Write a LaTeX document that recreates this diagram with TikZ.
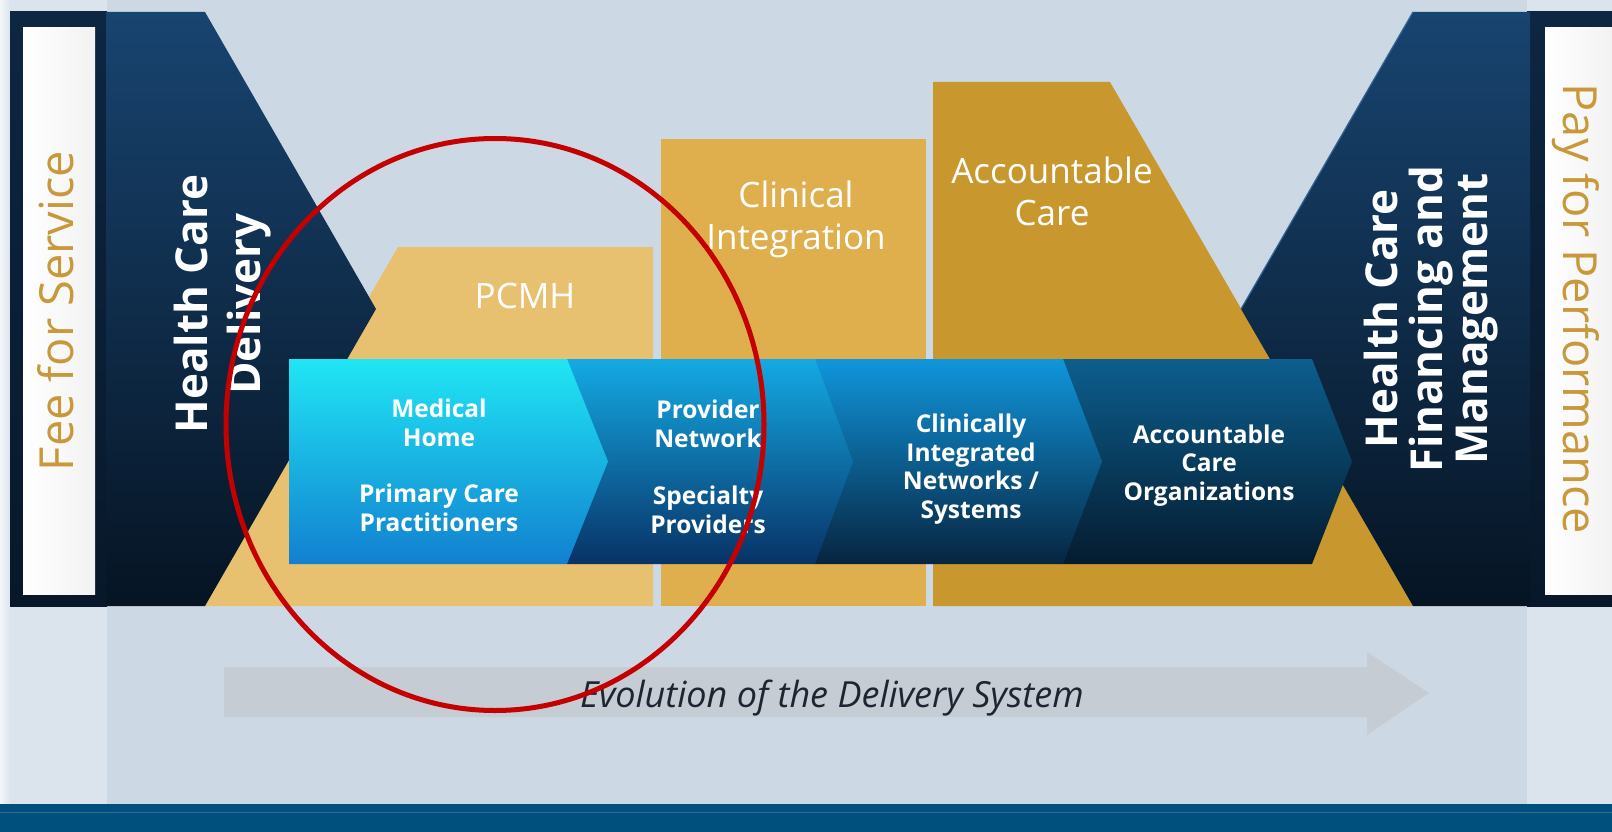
\documentclass[tikz,border=0pt]{standalone}
\usepackage{fontspec}
\setmainfont{Open Sans}
\usetikzlibrary{shadings}
\definecolor{bgmain}{RGB}{205,216,229}
\definecolor{bgside}{RGB}{219,227,237}
\definecolor{frametop}{RGB}{13,38,66}
\definecolor{framebot}{RGB}{8,24,42}
\definecolor{chevtop}{RGB}{24,68,112}
\definecolor{chevbot}{RGB}{6,20,35}
\definecolor{goldA}{RGB}{232,193,112}
\definecolor{goldB}{RGB}{222,175,76}
\definecolor{goldC}{RGB}{200,152,47}
\definecolor{sOneT}{RGB}{32,230,244}
\definecolor{sOneB}{RGB}{18,128,208}
\definecolor{sTwoT}{RGB}{20,170,228}
\definecolor{sTwoB}{RGB}{8,50,102}
\definecolor{sThrT}{RGB}{16,150,220}
\definecolor{sThrB}{RGB}{7,36,64}
\definecolor{sFouT}{RGB}{12,94,142}
\definecolor{sFouB}{RGB}{5,27,46}
\definecolor{goldtxt}{RGB}{201,152,58}
\definecolor{arrowgray}{RGB}{198,204,211}
\definecolor{redc}{RGB}{196,0,0}
\definecolor{bandc}{RGB}{0,80,126}
\definecolor{bandline}{RGB}{44,109,152}
\definecolor{evotxt}{RGB}{30,37,48}
\definecolor{edgehi}{RGB}{50,100,150}
\begin{document}
\begin{tikzpicture}[x=1pt,y=-1pt,
  bigl/.style={text=white, font=\fontsize{35}{41.5}\selectfont, align=center, anchor=base, inner sep=0pt},
  bandl/.style={text=white, font=\bfseries\fontsize{24.5}{28.5}\selectfont, align=center, anchor=base, inner sep=0pt},
  sidel/.style={text=white, font=\bfseries\fontsize{44}{53}\selectfont, align=center, anchor=base, inner sep=0pt, rotate=90},
  payl/.style={text=goldtxt, font=\fontsize{47}{56}\selectfont, anchor=base, inner sep=0pt},
  whitebox/.style={left color=white, right color=white!90!gray},
  framebox/.style={top color=frametop, bottom color=framebot}
]
\useasboundingbox (0,0) rectangle (1612,832);
% backgrounds
\fill[bgmain] (0,0) rectangle (1612,832);
\fill[bgside] (0,0) rectangle (107,804);
\fill[bgside] (1527,0) rectangle (1612,804);
\shade[left color=white!70!bgside, right color=bgside] (0,0) rectangle (10,804);
% bottom band
\fill[bandc] (0,804) rectangle (1612,832);
\draw[bandline, line width=1.5pt] (0,812.5) -- (1612,812.5);
% gold shapes
\fill[goldA] (398,247) -- (653,247) -- (653,606) -- (190,606) -- cycle;
\fill[goldB] (661,139) rectangle (926,606);
\fill[goldC] (933,82) -- (1110,82) -- (1413,606) -- (933,606) -- cycle;
% frames
\shade[framebox] (10,12) rectangle (107,606);
\shade[whitebox] (23,28) rectangle (95,594);
\shade[framebox] (1527,12) rectangle (1612,606);
\shade[whitebox] (1545,28) rectangle (1612,594);
% dark chevrons
\shade[top color=chevtop, bottom color=chevbot] (106,12) -- (205,12) -- (376,309) -- (205,606) -- (106,606) -- cycle;
\shade[top color=chevtop, bottom color=chevbot] (1530,12) -- (1413,12) -- (1241,309) -- (1413,606) -- (1530,606) -- cycle;
\draw[edgehi, line width=1.2pt] (1413,12) -- (1241,309);
% blue band
\shade[top color=sFouT, bottom color=sFouB] (1063,359) -- (1312,359) -- (1352,461.5) -- (1312,564) -- (1063,564) -- cycle;
\shade[top color=sThrT, bottom color=sThrB] (815,359) -- (1063,359) -- (1102,461.5) -- (1063,564) -- (815,564) -- cycle;
\shade[top color=sTwoT, bottom color=sTwoB] (567,359) -- (815,359) -- (853,461.5) -- (815,564) -- (567,564) -- cycle;
\shade[top color=sOneT, bottom color=sOneB] (289,359) -- (567,359) -- (608,461.5) -- (567,564) -- (289,564) -- cycle;
% texts (anchor=base is the baseline of the last line)
\node[payl, rotate=90] (fee) at (73,311) {Fee for Service};
\node[payl, rotate=-90] (pay) at (1563,309) {Pay for Performance};
\node[sidel] (hcd) at (260,304) {Health Care\\Delivery};
\node[sidel, font=\bfseries\fontsize{44}{45}\selectfont] (hcfm) at (1487,319) {Health Care\\Financing and\\Management};
\node[bigl] (pcmh) at (525,308) {PCMH};
\node[bigl] (ci) at (796,249) {Clinical\\Integration};
\node[bigl] (ac) at (1052,225) {Accountable\\Care};
\node[bandl] (mh) at (439,531) {Medical\\Home\\[28pt]Primary Care\\Practitioners};
\node[bandl] (pn) at (708,533) {Provider\\Network\\[29pt]Specialty\\Providers};
\node[bandl] (cin) at (971,518) {Clinically\\Integrated\\Networks /\\Systems};
\node[bandl] (aco) at (1209,500) {Accountable\\Care\\Organizations};
% evolution arrow
\fill[arrowgray] (224,667) -- (1367,667) -- (1367,652) -- (1429,693) -- (1367,735) -- (1367,717) -- (224,717) -- cycle;
\node[text=evotxt, font=\itshape\fontsize{36}{40}\selectfont, anchor=base, inner sep=0pt] (evo) at (832,707) {Evolution of the Delivery System};
% red ellipse
\draw[redc, line width=5pt] (495,424.5) ellipse [x radius=269, y radius=286];
\end{tikzpicture}
\end{document}
